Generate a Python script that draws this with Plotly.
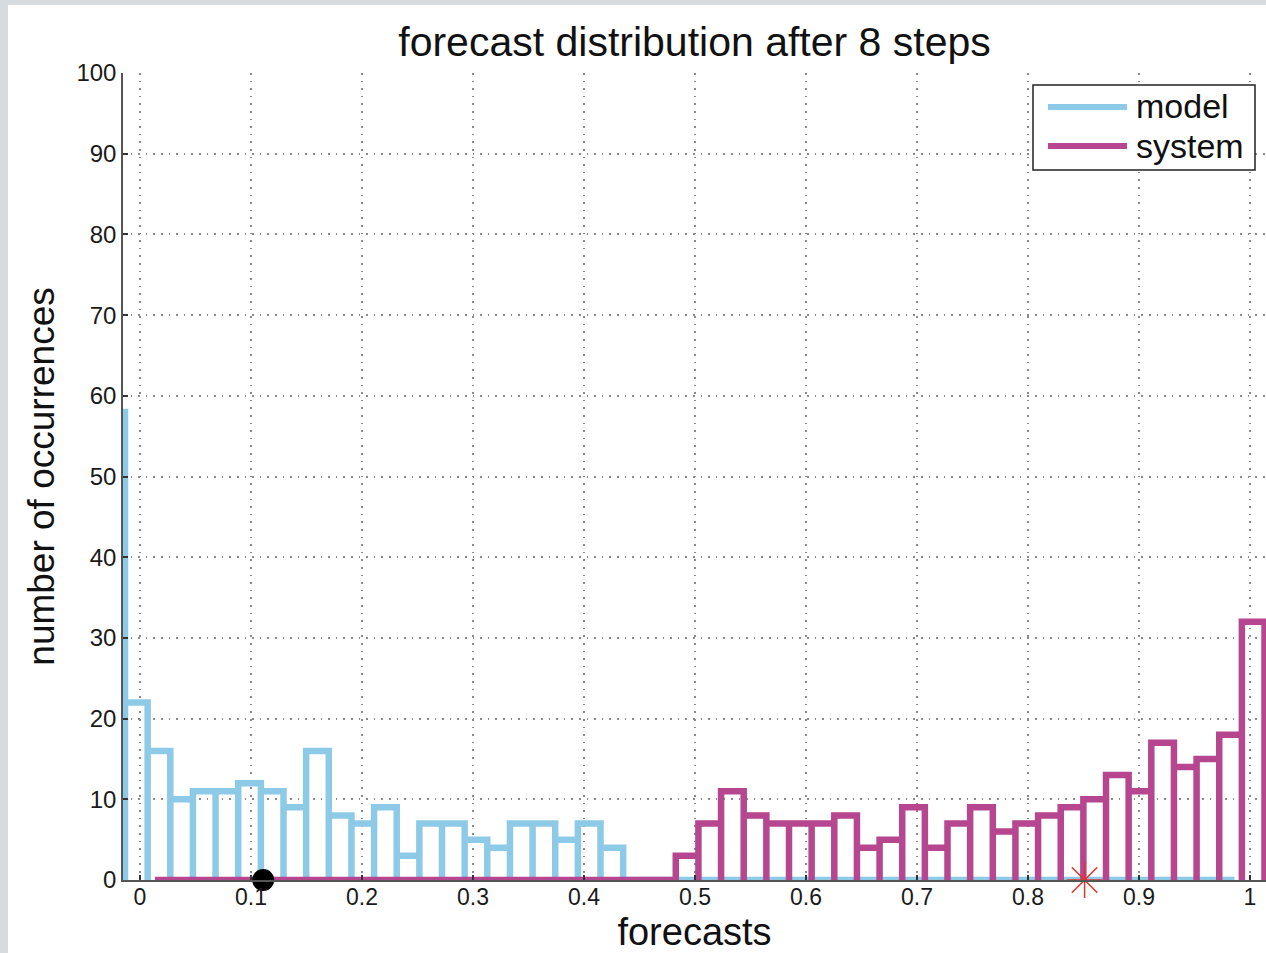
import numpy as np
import plotly.graph_objects as go

# ---------------- data ----------------
bin_width = 0.0204
model_bin_start = -0.0339
system_bin_start = 0.0135

model_counts = [58, 22, 16, 10, 11, 11, 12, 11, 9, 16, 8, 7, 9, 3, 7, 7, 5, 4, 7, 7, 5, 7, 4,
                0, 0, 0, 0, 0, 0, 0, 0, 0, 0, 0, 0, 0, 0, 0, 0, 0, 0, 0, 0, 0, 0, 0, 0, 0, 0, 0]
system_counts = [0, 0, 0, 0, 0, 0, 0, 0, 0, 0, 0, 0, 0, 0, 0, 0, 0, 0, 0, 0, 0, 0, 0,
                 3, 7, 11, 8, 7, 7, 7, 8, 4, 5, 9, 4, 7, 9, 6, 7, 8, 9, 10, 13, 11, 17, 14, 15, 18, 32]

dot_x = [0.111]
dot_y = [0]
star_x = [0.851]
star_y = [0]

x_ticks = [0, 0.1, 0.2, 0.3, 0.4, 0.5, 0.6, 0.7, 0.8, 0.9, 1]
x_tick_labels = ["0", "0.1", "0.2", "0.3", "0.4", "0.5", "0.6", "0.7", "0.8", "0.9", "1"]
y_ticks = [0, 10, 20, 30, 40, 50, 60, 70, 80, 90, 100]

title_text = "forecast distribution after 8 steps"
x_label = "forecasts"
y_label = "number of occurrences"
series_names = ["model", "system"]

# ---------------- styles ----------------
FONT = "Liberation Sans, Arial, Helvetica, sans-serif"
C_MODEL = "#8dcae8"
C_SYSTEM = "#b5468f"
W, H = 1266, 953
L, R, T, B = 123, 1266, 73, 880   # plot area in px
LW = 6.5


def outline(start, width, counts):
    edges = start + width * np.arange(len(counts) + 1)
    xs, ys = [], []
    for i, h in enumerate(counts):
        xs += [edges[i], edges[i], edges[i + 1], edges[i + 1]]
        ys += [0, h, h, 0]
    return xs, ys


def px_x(p):
    return (p - L) / (R - L)


def px_y(p):
    return (B - p) / (B - T)


fig = go.Figure()

mx, my = outline(model_bin_start, bin_width, model_counts)
sx, sy = outline(system_bin_start, bin_width, system_counts)

fig.add_trace(go.Scatter(x=mx, y=my, mode="lines", name=series_names[0],
                         line=dict(color=C_MODEL, width=LW), showlegend=False))
fig.add_trace(go.Scatter(x=sx, y=sy, mode="lines", name=series_names[1],
                         line=dict(color=C_SYSTEM, width=LW), showlegend=False))
fig.add_trace(go.Scatter(x=dot_x, y=dot_y, mode="markers", cliponaxis=False,
                         marker=dict(color="black", size=22), showlegend=False))
fig.add_trace(go.Scatter(x=star_x, y=star_y, mode="markers", cliponaxis=False,
                         marker=dict(symbol="asterisk-open", size=30, color="#e0352b",
                                     line=dict(width=1.5, color="#e0352b")),
                         showlegend=False))

x0 = -0.0153
x1 = x0 + (R - L) / 1110.0

grid = dict(showgrid=True, gridcolor="#8a8a8a", gridwidth=1.6, griddash="1.6px,6px")
fig.update_xaxes(range=[x0, x1], tickvals=x_ticks, ticktext=x_tick_labels,
                 ticks="inside", ticklen=5, tickwidth=1.5, tickcolor="#333",
                 ticklabelstandoff=-4,
                 showline=True, linecolor="#555", linewidth=1.5, zeroline=False,
                 tickfont=dict(family=FONT, size=23, color="#1a1a1a"),
                 title=dict(text=x_label, font=dict(family=FONT, size=38, color="#111"), standoff=12),
                 **grid)
fig.update_yaxes(range=[0, 100], tickvals=y_ticks,
                 ticks="inside", ticklen=5, tickwidth=1.5, tickcolor="#333",
                 showline=True, linecolor="#555", linewidth=1.5, zeroline=False,
                 tickfont=dict(family=FONT, size=24, color="#1a1a1a"),
                 title=dict(text=y_label, font=dict(family=FONT, size=37, color="#111"), standoff=10),
                 **grid)

shapes = [
    # white page over the grey slide background
    dict(type="rect", xref="paper", yref="paper", layer="below",
         x0=px_x(8), x1=px_x(W + 2), y0=px_y(H + 2), y1=px_y(5),
         fillcolor="white", line=dict(width=0)),
    # legend box
    dict(type="rect", xref="paper", yref="paper", layer="above",
         x0=px_x(1033), x1=px_x(1255), y0=px_y(170), y1=px_y(85),
         fillcolor="white", line=dict(color="#222", width=1.5)),
    dict(type="line", xref="paper", yref="paper", layer="above",
         x0=px_x(1048), x1=px_x(1127), y0=px_y(107), y1=px_y(107),
         line=dict(color=C_MODEL, width=6)),
    dict(type="line", xref="paper", yref="paper", layer="above",
         x0=px_x(1048), x1=px_x(1127), y0=px_y(146), y1=px_y(146),
         line=dict(color=C_SYSTEM, width=6)),
]
annotations = [
    dict(text=series_names[0], xref="paper", yref="paper", x=px_x(1134), y=px_y(106),
         xanchor="left", yanchor="middle", showarrow=False,
         font=dict(family=FONT, size=34, color="#111")),
    dict(text=series_names[1], xref="paper", yref="paper", x=px_x(1134), y=px_y(146),
         xanchor="left", yanchor="middle", showarrow=False,
         font=dict(family=FONT, size=34, color="#111")),
]

fig.update_layout(
    width=W, height=H,
    margin=dict(l=L, r=W - R, t=T, b=H - B, autoexpand=False),
    paper_bgcolor="#d6dbdf", plot_bgcolor="rgba(0,0,0,0)",
    title=dict(text=title_text, x=0.5, xref="paper", xanchor="center",
               y=1 - 42 / H, yref="container", yanchor="middle",
               font=dict(family=FONT, size=41, color="#111")),
    shapes=shapes, annotations=annotations, showlegend=False,
)

fig.write_html("out.html", config={"displayModeBar": False},
               post_script="document.body.style.margin='0';document.body.style.overflow='hidden';")
